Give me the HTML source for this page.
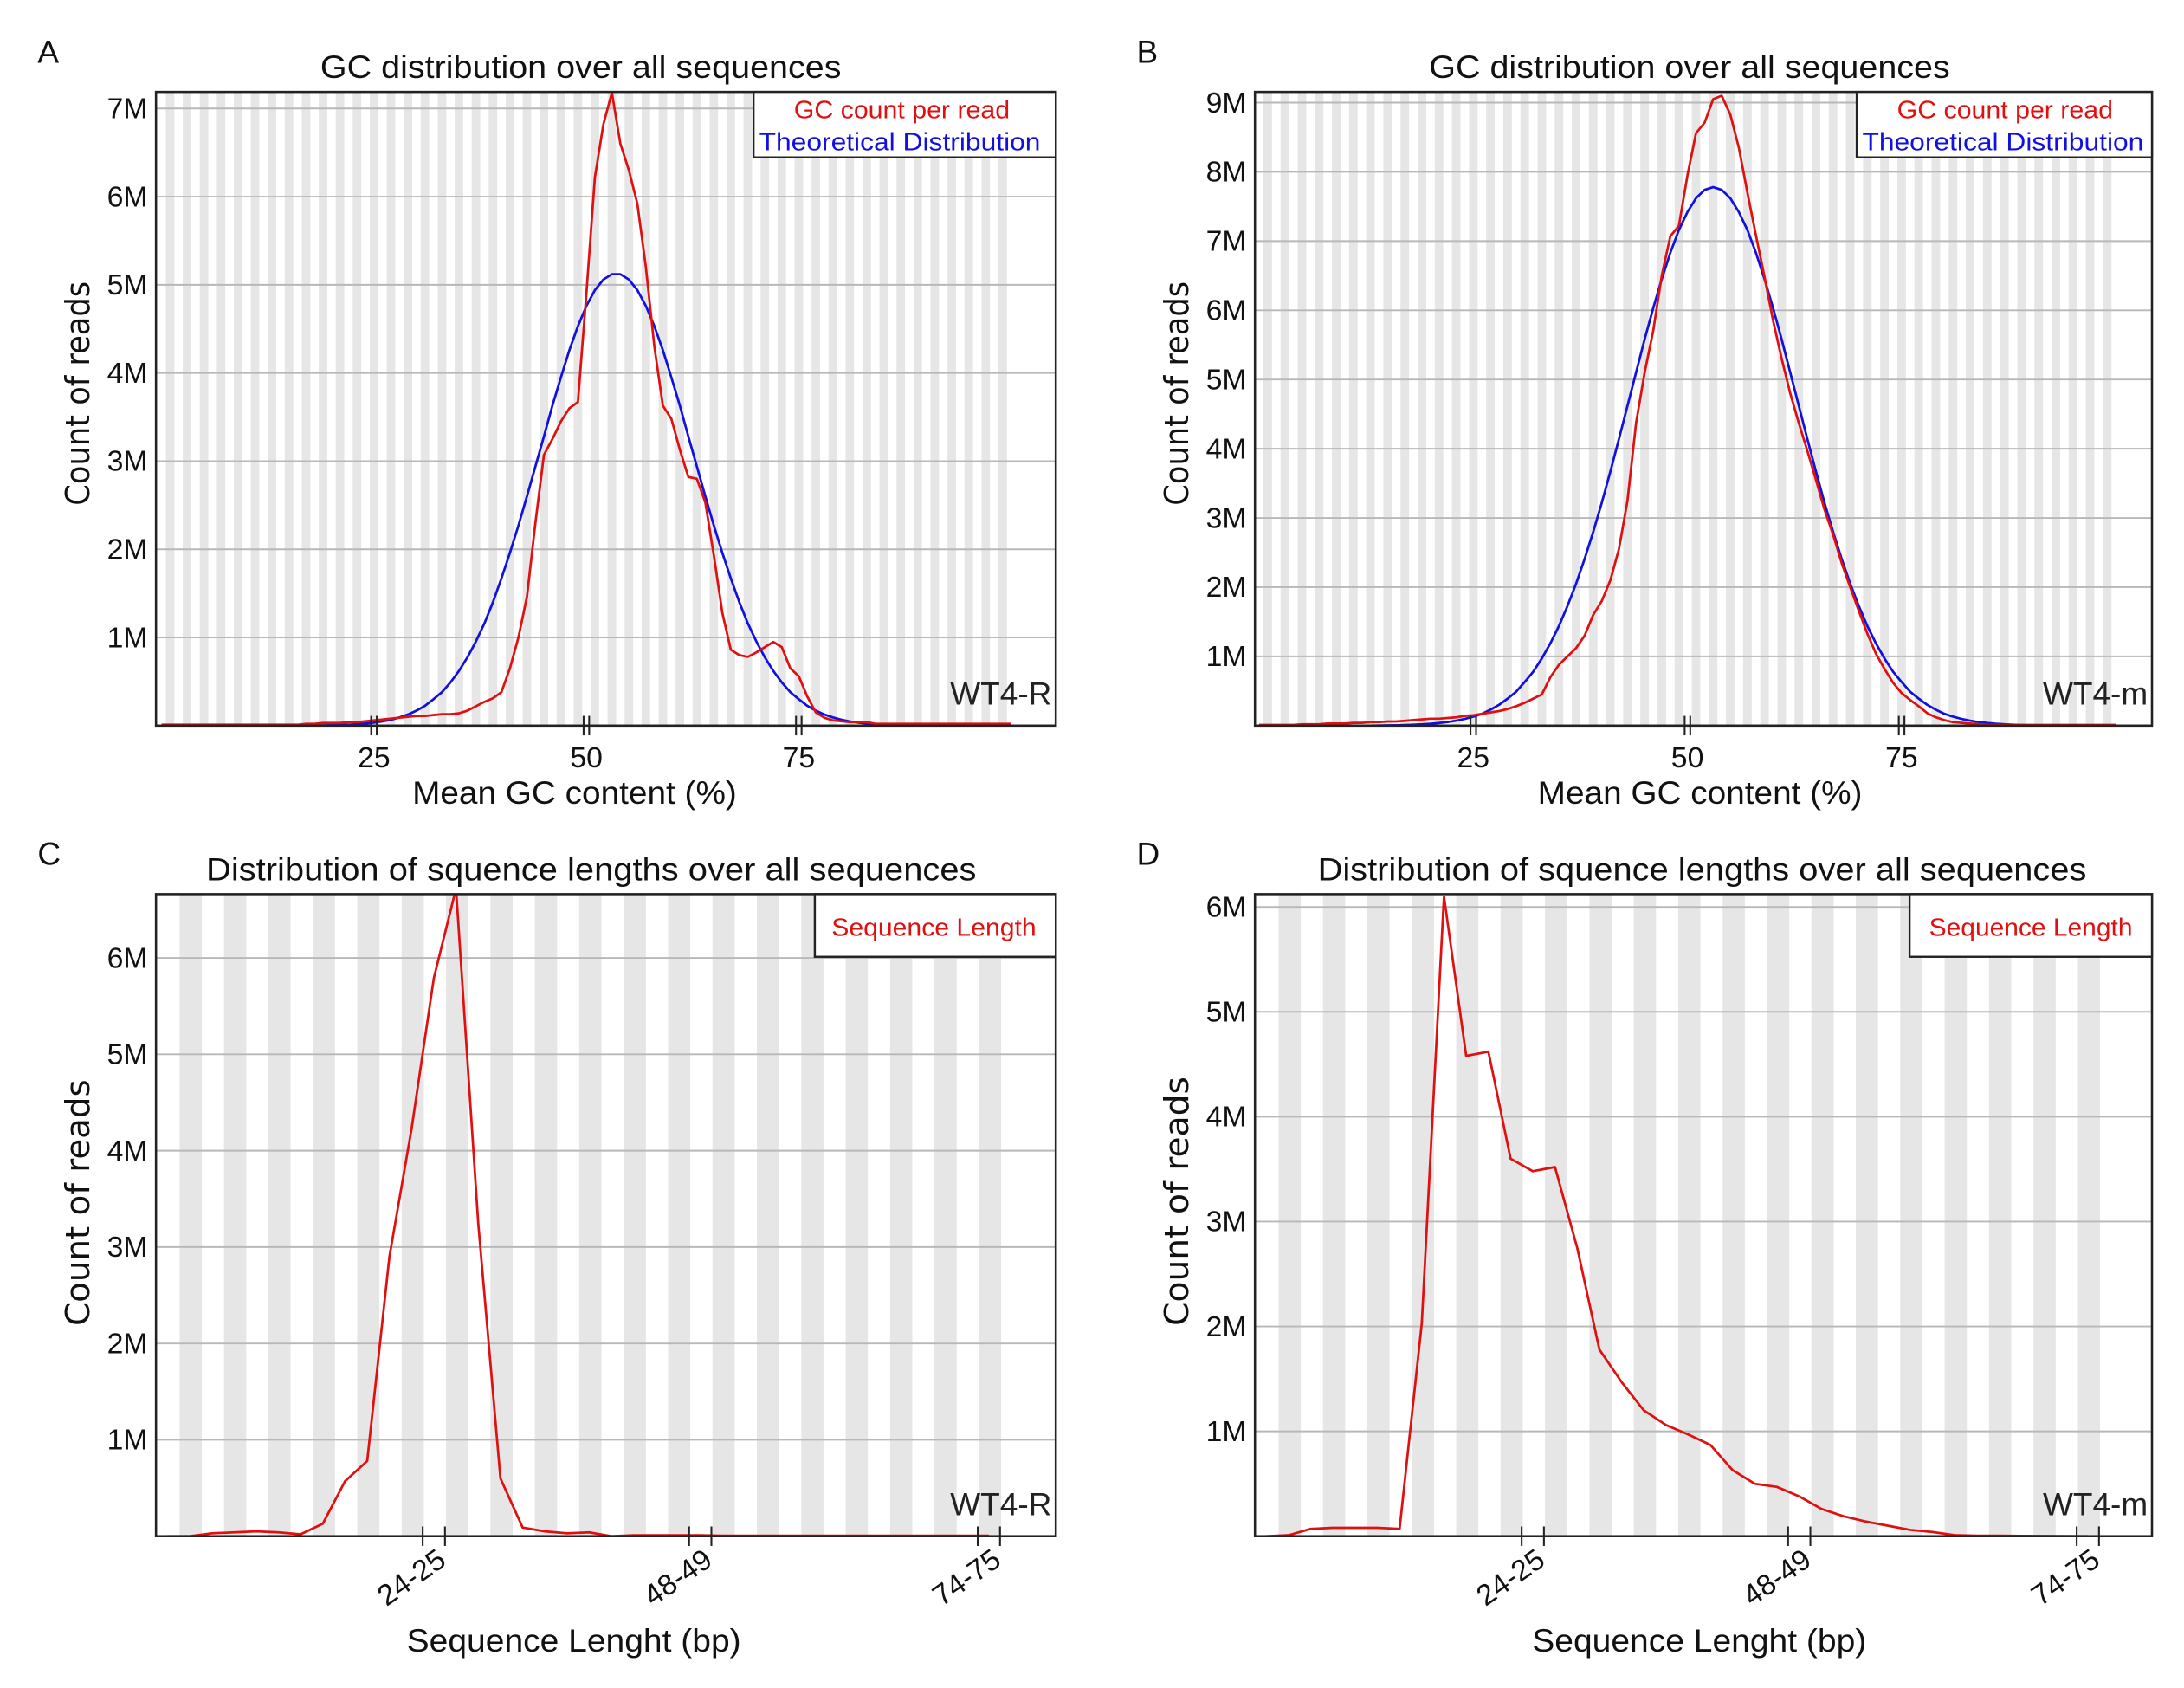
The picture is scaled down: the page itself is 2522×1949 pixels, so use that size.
<!DOCTYPE html>
<html><head><meta charset="utf-8"><style>
html,body{margin:0;padding:0;background:#fff;}
svg{display:block;}
text{font-family:"Liberation Sans Narrow","Liberation Sans",sans-serif;}
</style></head><body>
<svg id="fig" xmlns="http://www.w3.org/2000/svg" width="2522" height="1949" viewBox="0 0 1568 1212" preserveAspectRatio="none"></svg>
<script>
// ---- data ----
const gcRedA = [0.01,0.01,0.01,0.01,0.01,0.01,0.01,0.01,0.01,0.01,0.01,0.01,0.01,0.01,0.01,0.01,0.01,
0.02,0.02,0.03,0.03,0.03,0.04,0.04,0.05,
0.06,0.07,0.08,0.09,0.1,0.11,0.11,0.12,0.13,0.13,0.14,0.17,0.22,0.27,0.31,
0.38,0.65,1.0,1.46,2.3,3.07,3.25,3.45,3.6,3.67,
4.9,6.22,6.82,7.18,6.6,6.3,5.92,5.2,4.3,3.63,
3.48,3.13,2.82,2.8,2.53,1.93,1.28,0.86,0.8,0.78,
0.83,0.89,0.95,0.89,0.65,0.56,0.33,0.15,0.09,0.06,
0.05,0.04,0.04,0.04,
0.02,0.02,0.02,0.02,0.02,0.02,0.02,0.02,0.02,0.02,0.02,0.02,0.02,0.02,0.02,0.02,0.02];
const gcBlueA = [0,0,0,0,0,0,0,0,0,0,0,0,0,0,0,0,0,0,0,
0.003,0.005,0.007,0.011,0.016,0.024,0.034,0.048,0.067,0.093,0.126,0.17,0.225,0.30,0.38,0.49,0.62,0.775,0.955,1.16,1.40,1.67,1.96,2.27,2.60,2.94,3.28,3.63,3.95,4.26,4.53,4.76,4.94,5.06,5.12,
5.12,5.06,4.94,4.76,4.53,4.26,3.95,3.63,3.28,2.94,2.60,2.27,1.96,1.67,1.40,1.16,0.955,0.775,0.62,0.49,0.38,0.30,0.225,0.17,0.126,0.093,0.067,0.048,0.034,0.024,0.016,0.011,0.007,0.005,0.003,
0,0,0,0,0,0,0,0,0,0,0,0];
const gcRedB = [0.01,0.01,0.01,0.01,0.01,
0.02,0.02,0.02,0.03,0.03,
0.03,0.04,0.04,0.05,0.05,
0.06,0.06,0.07,0.08,0.09,
0.1,0.1,0.11,0.12,0.14,
0.15,0.17,0.19,0.21,0.24,
0.28,0.33,0.39,0.45,0.7,
0.88,1.0,1.12,1.3,1.6,
1.8,2.1,2.55,3.25,4.37,
5.1,5.7,6.5,7.07,7.22,
7.95,8.56,8.71,9.05,9.1,
8.83,8.35,7.7,7.08,6.48,
5.85,5.3,4.8,4.37,3.97,
3.55,3.12,2.76,2.35,2.0,
1.66,1.33,1.04,0.82,0.62,
0.47,0.37,0.28,0.18,0.12,
0.08,0.05,0.04,0.03,0.02,
0.01,0.01,0.01,0.01,0.01,0.01,0.01,0.01,0.01,0.01,0.01,0.01,0.01,0.01,0.01,0.01];
const gcBlueB = [0,0,0,0,0,0,0,0,0,0,0,0,0,0,
0.003,0.004,0.006,0.009,0.013,0.019,0.027,0.038,0.052,0.072,0.097,0.13,0.17,0.23,0.30,0.39,0.49,0.63,0.78,0.97,1.19,1.44,1.73,2.05,2.41,2.80,3.22,3.67,4.14,4.62,5.10,5.58,6.03,6.45,6.83,7.16,7.42,7.62,7.74,7.78,
7.74,7.62,7.42,7.16,6.83,6.45,6.03,5.58,5.10,4.62,4.14,3.67,3.22,2.80,2.41,2.05,1.73,1.44,1.19,0.97,0.78,0.63,0.49,0.39,0.30,0.23,0.17,0.13,0.097,0.072,0.052,0.038,0.027,0.019,0.013,0.009,0.006,0.004,0.003,
0,0,0,0,0,0,0,0];
const lenBins = [0.5,2.5,4.5,6.5,8.5,10.5,12.5,14.5,16.5,18.5,20.5,22.5,24.5,26.5,28.5,30.5,32.5,34.5,36.5,38.5,40.5,42.5,44.5,46.5,48.5,50.5,52.5,54.5,56.5,58.5,60.5,62.5,64.5,66.5,68.5,70.5,72.5,74.5];
const lenC = [0,0,0.03,0.04,0.05,0.04,0.02,0.13,0.57,0.78,2.9,4.23,5.79,6.72,3.25,0.6,0.09,0.05,0.03,0.04,0,0.01,0.01,0.01,0.01,0.005,0.005,0.005,0.005,0.005,0.005,0.005,0.005,0.005,0.005,0.005,0.005,0.005];
const lenD = [0,0.01,0.07,0.08,0.08,0.08,0.07,2.03,6.1,4.58,4.62,3.6,3.48,3.52,2.75,1.78,1.47,1.2,1.06,0.97,0.87,0.63,0.5,0.47,0.38,0.26,0.19,0.14,0.1,0.06,0.04,0.01,0.005,0.005,0.003,0.002,0.001,0];
const gcTickVals = [25,50,75];
const lenTickVals = [24.5,48.5,74.5];
const lenTickLabels = ["24-25","48-49","74-75"];
const ticksAB = [1,2,3,4,5,6,7];
const ticksB = [1,2,3,4,5,6,7,8,9];
const ticksCD = [1,2,3,4,5,6];

const NS = "http://www.w3.org/2000/svg";
const svg = document.getElementById('fig');
function mk(tag, attrs, parent, txt){
  const e = document.createElementNS(NS, tag);
  for (const k in attrs) e.setAttribute(k, attrs[k]);
  if (txt !== undefined) e.textContent = txt;
  (parent || svg).appendChild(e);
  return e;
}

function panel(cfg){
  const g = mk('g', {});
  
  
  const X = v => cfg.xa + v * cfg.xs;
  const Y = v => cfg.y1 - v * cfg.ys;
  // background
  const bg = mk('rect', {x:cfg.x0, y:cfg.y0, width:cfg.x1-cfg.x0, height:cfg.y1-cfg.y0, fill:'#fff'}, g);
  
  
  // stripes
  const sg = mk('g', {}, g);
  
  
  for (let k = 0; k < cfg.nStripes; k++){
    const s0 = cfg.stripeStart + k * cfg.stripePeriod;
    const r = mk('rect', {x:X(s0), y:cfg.y0, width:cfg.stripeWidth*cfg.xs, height:cfg.y1-cfg.y0, fill:'#e6e6e6'}, sg);
    
    
  }
  // grid + y labels
  cfg.yTicks.forEach(t => {
    const l = mk('line', {x1:cfg.x0, x2:cfg.x1, y1:Y(t), y2:Y(t), stroke:'#b8b8b8', 'stroke-width':1.2}, g);
    
    
    const tx = mk('text', {x:cfg.x0-6, y:Y(t)+7, 'text-anchor':'end', 'font-size':21, fill:'#111'}, g, t + 'M');
    
    
  });
  // clip
  const cp = mk('clipPath', {id:'clip'+cfg.id}, g);
  mk('rect', {x:cfg.x0, y:cfg.y0, width:cfg.x1-cfg.x0, height:cfg.y1-cfg.y0}, cp);
  // series
  cfg.series.forEach(s => {
    const d = s.vals.map((v,i) => (i?'L':'M') + X(s.xs ? s.xs[i] : i).toFixed(2) + ' ' + Y(v).toFixed(2)).join(' ');
    const p = mk('path', {d:d, fill:'none', stroke:s.color, 'stroke-width':1.7, 'stroke-linejoin':'round', 'clip-path':'url(#clip'+cfg.id+')'}, g);
    
    
  });
  // frame
  const fr = mk('rect', {x:cfg.x0, y:cfg.y0, width:cfg.x1-cfg.x0, height:cfg.y1-cfg.y0, fill:'none', stroke:'#222', 'stroke-width':1.6}, g);
  
  
  // x ticks
  cfg.xTicks.forEach((t,i) => {
    const xc = X(t);
    [-cfg.tickGap, cfg.tickGap].forEach(o => {
      const tl = mk('line', {x1:xc+o, x2:xc+o, y1:cfg.y1-7, y2:cfg.y1+7, stroke:'#222', 'stroke-width':1.3}, g);
      
      
    });
    let tx;
    if (cfg.rotLabels){
      tx = mk('text', {x:xc+10, y:cfg.y1+20, 'text-anchor':'end', 'font-size':21, fill:'#111', transform:'rotate(-35 '+(xc+10)+' '+(cfg.y1+20)+')'}, g, cfg.xLabels[i]);
    } else {
      tx = mk('text', {x:xc, y:cfg.y1+30, 'text-anchor':'middle', 'font-size':21, fill:'#111'}, g, cfg.xLabels[i]);
    }
    
    
  });
  // titles
  const ti = mk('text', {x:cfg.title.x, y:cfg.y0-10, 'font-size':23, fill:'#111', textLength:cfg.title.w, lengthAdjust:'spacingAndGlyphs'}, g, cfg.title.t);
  
  
  const pl = mk('text', {x:cfg.x0-85, y:cfg.y0-21, 'font-size':23, fill:'#111'}, g, cfg.id);
  
  
  const yc = (cfg.yt[0]+cfg.yt[1])/2;
  const yt = mk('text', {x:cfg.x0-64, y:yc, 'font-size':24, fill:'#111', 'text-anchor':'middle', style:'font-family:"DejaVu Sans",sans-serif', textLength:cfg.yt[1]-cfg.yt[0], lengthAdjust:'spacingAndGlyphs', transform:'rotate(-90 '+(cfg.x0-56)+' '+yc+')', dx:8, dy:8}, g, 'Count of reads');
  
  
  const xt = mk('text', {x:cfg.xt.x, y:cfg.xt.y, 'font-size':23, fill:'#111', textLength:cfg.xt.w, lengthAdjust:'spacingAndGlyphs'}, g, cfg.xt.t);
  
  
  const sm = mk('text', {x:cfg.x1-3, y:cfg.y1-15, 'text-anchor':'end', 'font-size':23, fill:'#222'}, g, cfg.sample);
  
  
  // legend
  const lg = mk('g', {}, g);
  
  
  const lb = mk('rect', {x:cfg.leg.x, y:cfg.y0, width:cfg.x1-cfg.leg.x, height:cfg.leg.h, fill:'#fff', stroke:'#222', 'stroke-width':1.5}, lg);
  
  
  cfg.leg.items.forEach(it => {
    const t = mk('text', {x:it.x, y:cfg.y0+it.dy, 'font-size':18, fill:it.c, textLength:it.w, lengthAdjust:'spacingAndGlyphs'}, lg, it.t);
    
    
  });
}

panel({id:'A', x0:112, x1:758, y0:66, y1:521, xa:116, xs:6.1, ys:63.3, yTicks:ticksAB,
  nStripes:50, stripeStart:0.5, stripePeriod:2, stripeWidth:1,
  series:[{vals:gcBlueA, color:'#1010e0', name:'theoretical-distribution-line'},{vals:gcRedA, color:'#e01010', name:'gc-count-line'}],
  xTicks:gcTickVals, xLabels:gcTickVals.map(String), tickGap:2, rotLabels:false,
  title:{x:230, w:374, t:'GC distribution over all sequences'}, yt:[202,363],
  xt:{x:296, y:577, w:233, t:'Mean GC content (%)'}, sample:'WT4-R',
  leg:{x:541, h:47, items:[{x:570, dy:19, w:155, c:'#e01010', t:'GC count per read'},{x:545, dy:42, w:202, c:'#1010e0', t:'Theoretical Distribution'}]}});
panel({id:'B', x0:901, x1:1545, y0:66, y1:521, xa:904, xs:6.15, ys:49.7, yTicks:ticksB,
  nStripes:50, stripeStart:0.5, stripePeriod:2, stripeWidth:1,
  series:[{vals:gcBlueB, color:'#1010e0', name:'theoretical-distribution-line'},{vals:gcRedB, color:'#e01010', name:'gc-count-line'}],
  xTicks:gcTickVals, xLabels:gcTickVals.map(String), tickGap:2, rotLabels:false,
  title:{x:1026, w:374, t:'GC distribution over all sequences'}, yt:[202,363],
  xt:{x:1104, y:577, w:233, t:'Mean GC content (%)'}, sample:'WT4-m',
  leg:{x:1333, h:47, items:[{x:1362, dy:19, w:155, c:'#e01010', t:'GC count per read'},{x:1337, dy:42, w:202, c:'#1010e0', t:'Theoretical Distribution'}]}});
panel({id:'C', x0:112, x1:758, y0:642, y1:1103, xa:116.2, xs:7.97, ys:69.2, yTicks:ticksCD,
  nStripes:19, stripeStart:1.6, stripePeriod:4, stripeWidth:2,
  series:[{vals:lenC, xs:lenBins, color:'#e01010', name:'sequence-length-line'}],
  xTicks:lenTickVals, xLabels:lenTickLabels, tickGap:8, rotLabels:true,
  title:{x:148, w:553, t:'Distribution of squence lengths over all sequences'}, yt:[775,952],
  xt:{x:292, y:1186, w:240, t:'Sequence Lenght (bp)'}, sample:'WT4-R',
  leg:{x:585, h:45, items:[{x:597, dy:30, w:147, c:'#e01010', t:'Sequence Length'}]}});
panel({id:'D', x0:901, x1:1545, y0:642, y1:1103, xa:905.2, xs:7.97, ys:75.3, yTicks:ticksCD,
  nStripes:19, stripeStart:1.6, stripePeriod:4, stripeWidth:2,
  series:[{vals:lenD, xs:lenBins, color:'#e01010', name:'sequence-length-line'}],
  xTicks:lenTickVals, xLabels:lenTickLabels, tickGap:8, rotLabels:true,
  title:{x:946, w:552, t:'Distribution of squence lengths over all sequences'}, yt:[773,952],
  xt:{x:1100, y:1186, w:240, t:'Sequence Lenght (bp)'}, sample:'WT4-m',
  leg:{x:1371, h:45, items:[{x:1385, dy:30, w:146, c:'#e01010', t:'Sequence Length'}]}});
</script>
</body></html>
